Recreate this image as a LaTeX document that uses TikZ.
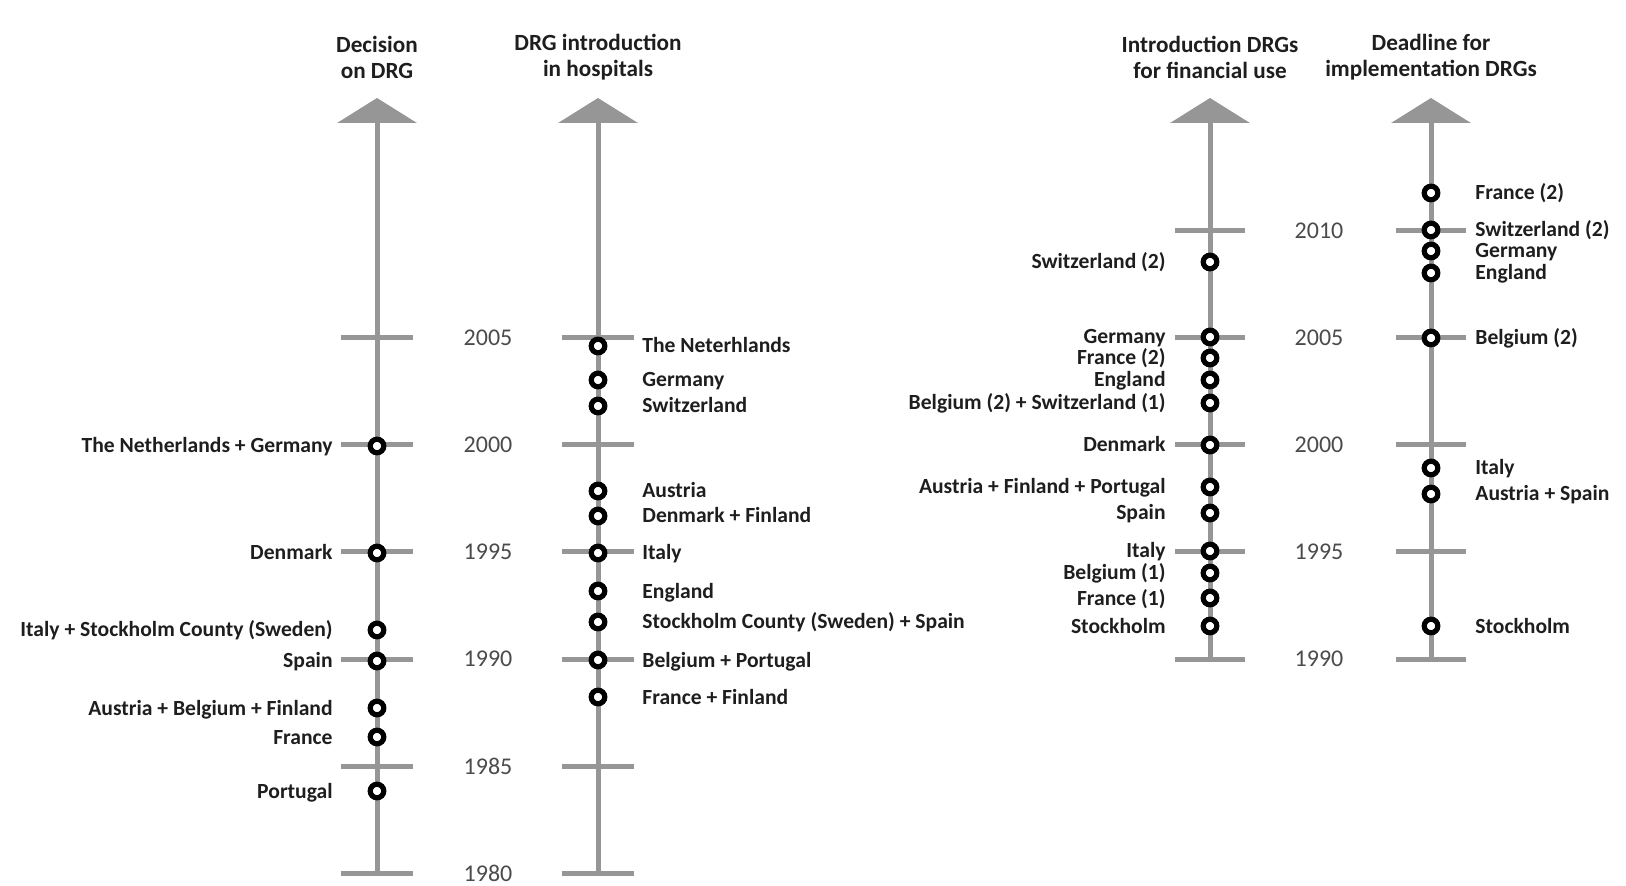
\documentclass[tikz,border=0pt]{standalone}
\usepackage{fontspec}
\setmainfont{Carlito}
\usetikzlibrary{positioning,arrows.meta}

\definecolor{axisgray}{RGB}{150,150,150}
\definecolor{yeargray}{RGB}{75,75,75}
\definecolor{labelblack}{RGB}{30,30,30}

\begin{document}
\begin{tikzpicture}[
            x=0.5pt, y=-0.5pt,
            node distance=17.3pt,
            event/.style={
                circle,
                draw=black,
                fill=white,
                line width=2.6pt,
                minimum size=6.8pt,
                inner sep=0pt
            },
            country/.style={
                inner sep=0pt,
                text height=8pt,
                text depth=1pt,
                text=labelblack,
                font=\bfseries\fontsize{10.8}{12}\selectfont
            },
            year/.style={
                text=yeargray,
                font=\fontsize{12}{14}\selectfont
            },
            heading/.style={
                align=center,
                text=labelblack,
                font=\bfseries\fontsize{11.6}{13}\selectfont
            },
            axisline/.style={
                draw=axisgray,
                line width=2.5pt,
                -{Triangle[width=39.5pt, length=12.5pt]}
            },
            yeartick/.style={
                draw=axisgray,
                line width=2.5pt
            }
        ]

            \useasboundingbox (0,0) rectangle (1626,886);

            % headings
            \node[heading] (head1) at (377, 57) {Decision\\on DRG};
            \node[heading] (head2) at (598, 57) {DRG introduction\\in hospitals};
            \node[heading] (head3) at (1210, 57) {Introduction DRGs\\for financial use};
            \node[heading] (head4) at (1431, 57) {Deadline for\\implementation DRGs};

            % axes
            \coordinate (dec-bot) at (377, 873);
            \coordinate (dec-top) at (377, 98);
            \coordinate (hos-bot) at (598, 873);
            \coordinate (hos-top) at (598, 98);
            \coordinate (fin-bot) at (1210, 659);
            \coordinate (fin-top) at (1210, 98);
            \coordinate (ddl-bot) at (1431, 659);
            \coordinate (ddl-top) at (1431, 98);

            \draw[axisline] (dec-bot) -- (dec-top);
            \draw[axisline] (hos-bot) -- (hos-top);
            \draw[axisline] (fin-bot) -- (fin-top);
            \draw[axisline] (ddl-bot) -- (ddl-top);

            % ticks, left pair
            \draw[yeartick] (341, 338) -- (413, 338);
            \draw[yeartick] (341, 445) -- (413, 445);
            \draw[yeartick] (341, 552) -- (413, 552);
            \draw[yeartick] (341, 659) -- (413, 659);
            \draw[yeartick] (341, 766) -- (413, 766);
            \draw[yeartick] (341, 873) -- (413, 873);

            \draw[yeartick] (562, 338) -- (634, 338);
            \draw[yeartick] (562, 445) -- (634, 445);
            \draw[yeartick] (562, 552) -- (634, 552);
            \draw[yeartick] (562, 659) -- (634, 659);
            \draw[yeartick] (562, 766) -- (634, 766);
            \draw[yeartick] (562, 873) -- (634, 873);

            % ticks, right pair
            \draw[yeartick] (1175, 231) -- (1245, 231);
            \draw[yeartick] (1175, 338) -- (1245, 338);
            \draw[yeartick] (1175, 445) -- (1245, 445);
            \draw[yeartick] (1175, 552) -- (1245, 552);
            \draw[yeartick] (1175, 659) -- (1245, 659);

            \draw[yeartick] (1396, 231) -- (1466, 231);
            \draw[yeartick] (1396, 338) -- (1466, 338);
            \draw[yeartick] (1396, 445) -- (1466, 445);
            \draw[yeartick] (1396, 552) -- (1466, 552);
            \draw[yeartick] (1396, 659) -- (1466, 659);

            % years
            \node[year] (ya2005) at (488, 338) {2005};
            \node[year] (ya2000) at (488, 445) {2000};
            \node[year] (ya1995) at (488, 552) {1995};
            \node[year] (ya1990) at (488, 659) {1990};
            \node[year] (ya1985) at (488, 766) {1985};
            \node[year] (ya1980) at (488, 873) {1980};

            \node[year] (yb2010) at (1319, 231) {2010};
            \node[year] (yb2005) at (1319, 338) {2005};
            \node[year] (yb2000) at (1319, 445) {2000};
            \node[year] (yb1995) at (1319, 552) {1995};
            \node[year] (yb1990) at (1319, 659) {1990};

            % decision on DRG
            \node[event] (dec1) at (377, 446) {};
            \node[event] (dec2) at (377, 553) {};
            \node[event] (dec3) at (377, 630) {};
            \node[event] (dec4) at (377, 661) {};
            \node[event] (dec5) at (377, 708) {};
            \node[event] (dec6) at (377, 737) {};
            \node[event] (dec7) at (377, 791) {};

            \node[country, left=of dec1] (dec1txt) {The Netherlands + Germany};
            \node[country, left=of dec2] (dec2txt) {Denmark};
            \node[country, left=of dec3] (dec3txt) {Italy + Stockholm County (Sweden)};
            \node[country, left=of dec4] (dec4txt) {Spain};
            \node[country, left=of dec5] (dec5txt) {Austria + Belgium + Finland};
            \node[country, left=of dec6] (dec6txt) {France};
            \node[country, left=of dec7] (dec7txt) {Portugal};

            % DRG introduction in hospitals
            \node[event] (hos1) at (598, 346) {};
            \node[event] (hos2) at (598, 380) {};
            \node[event] (hos3) at (598, 406) {};
            \node[event] (hos4) at (598, 491) {};
            \node[event] (hos5) at (598, 516) {};
            \node[event] (hos6) at (598, 553) {};
            \node[event] (hos7) at (598, 591) {};
            \node[event] (hos8) at (598, 622) {};
            \node[event] (hos9) at (598, 660) {};
            \node[event] (hos10) at (598, 697) {};

            \node[country, right=of hos1] (hos1txt) {The Neterhlands};
            \node[country, right=of hos2] (hos2txt) {Germany};
            \node[country, right=of hos3] (hos3txt) {Switzerland};
            \node[country, right=of hos4] (hos4txt) {Austria};
            \node[country, right=of hos5] (hos5txt) {Denmark + Finland};
            \node[country, right=of hos6] (hos6txt) {Italy};
            \node[country, right=of hos7] (hos7txt) {England};
            \node[country, right=of hos8] (hos8txt) {Stockholm County (Sweden) + Spain};
            \node[country, right=of hos9] (hos9txt) {Belgium + Portugal};
            \node[country, right=of hos10] (hos10txt) {France + Finland};

            % introduction DRGs for financial use
            \node[event] (fin1) at (1210, 262) {};
            \node[event] (fin2) at (1210, 337) {};
            \node[event] (fin3) at (1210, 358) {};
            \node[event] (fin4) at (1210, 380) {};
            \node[event] (fin5) at (1210, 403) {};
            \node[event] (fin6) at (1210, 445) {};
            \node[event] (fin7) at (1210, 487) {};
            \node[event] (fin8) at (1210, 513) {};
            \node[event] (fin9) at (1210, 551) {};
            \node[event] (fin10) at (1210, 573) {};
            \node[event] (fin11) at (1210, 598) {};
            \node[event] (fin12) at (1210, 626) {};

            \node[country, left=of fin1] (fin1txt) {Switzerland (2)};
            \node[country, left=of fin2] (fin2txt) {Germany};
            \node[country, left=of fin3] (fin3txt) {France (2)};
            \node[country, left=of fin4] (fin4txt) {England};
            \node[country, left=of fin5] (fin5txt) {Belgium (2) + Switzerland (1)};
            \node[country, left=of fin6] (fin6txt) {Denmark};
            \node[country, left=of fin7] (fin7txt) {Austria + Finland + Portugal};
            \node[country, left=of fin8] (fin8txt) {Spain};
            \node[country, left=of fin9] (fin9txt) {Italy};
            \node[country, left=of fin10] (fin10txt) {Belgium (1)};
            \node[country, left=of fin11] (fin11txt) {France (1)};
            \node[country, left=of fin12] (fin12txt) {Stockholm};

            % deadline for implementation DRGs
            \node[event] (ddl1) at (1431, 193) {};
            \node[event] (ddl2) at (1431, 230) {};
            \node[event] (ddl3) at (1431, 251) {};
            \node[event] (ddl4) at (1431, 273) {};
            \node[event] (ddl5) at (1431, 338) {};
            \node[event] (ddl6) at (1431, 468) {};
            \node[event] (ddl7) at (1431, 494) {};
            \node[event] (ddl8) at (1431, 626) {};

            \node[country, right=of ddl1] (ddl1txt) {France (2)};
            \node[country, right=of ddl2] (ddl2txt) {Switzerland (2)};
            \node[country, right=of ddl3] (ddl3txt) {Germany};
            \node[country, right=of ddl4] (ddl4txt) {England};
            \node[country, right=of ddl5] (ddl5txt) {Belgium (2)};
            \node[country, right=of ddl6] (ddl6txt) {Italy};
            \node[country, right=of ddl7] (ddl7txt) {Austria + Spain};
            \node[country, right=of ddl8] (ddl8txt) {Stockholm};

        \end{tikzpicture}
\end{document}
